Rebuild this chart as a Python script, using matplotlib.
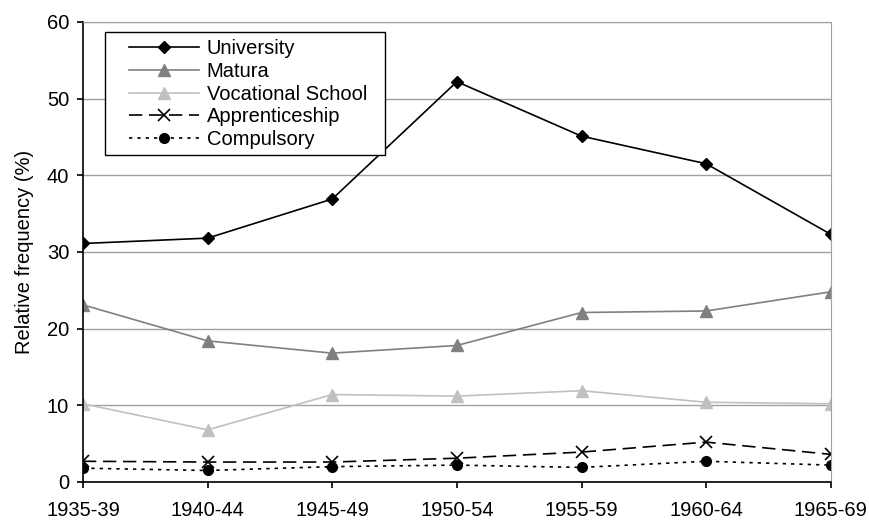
import matplotlib
matplotlib.use("Agg")
from matplotlib import pyplot as plt
from matplotlib.patches import Rectangle

plt.rcParams['font.family'] = ['Liberation Sans', 'DejaVu Sans']

# data
periods = ["1935-39", "1940-44", "1945-49", "1950-54", "1955-59", "1960-64", "1965-69"]
university = [31.1, 31.8, 36.9, 52.2, 45.1, 41.5, 32.3]
matura = [23.1, 18.4, 16.8, 17.8, 22.1, 22.3, 24.8]
vocational = [10.2, 6.8, 11.4, 11.2, 11.9, 10.4, 10.2]
apprenticeship = [2.7, 2.6, 2.6, 3.1, 3.9, 5.2, 3.6]
compulsory = [1.8, 1.5, 2.0, 2.2, 1.9, 2.7, 2.2]

fs = 14.5
fig = plt.figure(figsize=(8.69, 5.21), dpi=100)
ax = fig.add_axes([0.0955, 0.0749, 0.8605, 0.8831])

x = list(range(len(periods)))
ax.plot(x, university, color='black', lw=1.2, marker='D', ms=6.5, label='University')
ax.plot(x, matura, color='#808080', lw=1.2, marker='^', ms=8, label='Matura')
ax.plot(x, vocational, color='#c0c0c0', lw=1.2, marker='^', ms=8, label='Vocational School')
ax.plot(x, apprenticeship, color='black', lw=1.2, ls=(0, (8, 4)), marker='x', ms=8,
        mew=1.2, label='Apprenticeship')
ax.plot(x, compulsory, color='black', lw=1.2, ls=(0, (2, 3)), marker='o', ms=7,
        label='Compulsory')

ax.set_xlim(0, len(periods) - 1)
ax.set_ylim(0, 60)
ax.set_yticks(range(0, 61, 10))
ax.set_xticks(x)
ax.set_xticklabels(periods)
ax.yaxis.grid(True, color='#a0a0a0', lw=1)
ax.set_axisbelow(True)
for s in ['top', 'right']:
    ax.spines[s].set_color('#a0a0a0')
for s in ['left', 'bottom']:
    ax.spines[s].set_color('black')
    ax.spines[s].set_linewidth(1.2)
ax.tick_params(labelsize=fs, length=4.5, width=1.2)
ax.tick_params(axis='x', pad=9)
ax.tick_params(axis='y', pad=5.5)
ax.set_ylabel('Relative frequency (%)', fontsize=fs, labelpad=9)

# legend: drawn without its own frame, box added separately for the wide left margin
leg = ax.legend(loc='upper left', bbox_to_anchor=(0.0615, 0.963), fontsize=fs,
                frameon=False, handlelength=3.5, handletextpad=0.35,
                labelspacing=0.19, borderpad=0, borderaxespad=0)
ax.add_patch(Rectangle((0.0294, 0.711), 0.3743, 0.267, transform=ax.transAxes,
                       facecolor='white', edgecolor='black', lw=1, zorder=4.9))

fig.savefig('out.png', dpi=100)
